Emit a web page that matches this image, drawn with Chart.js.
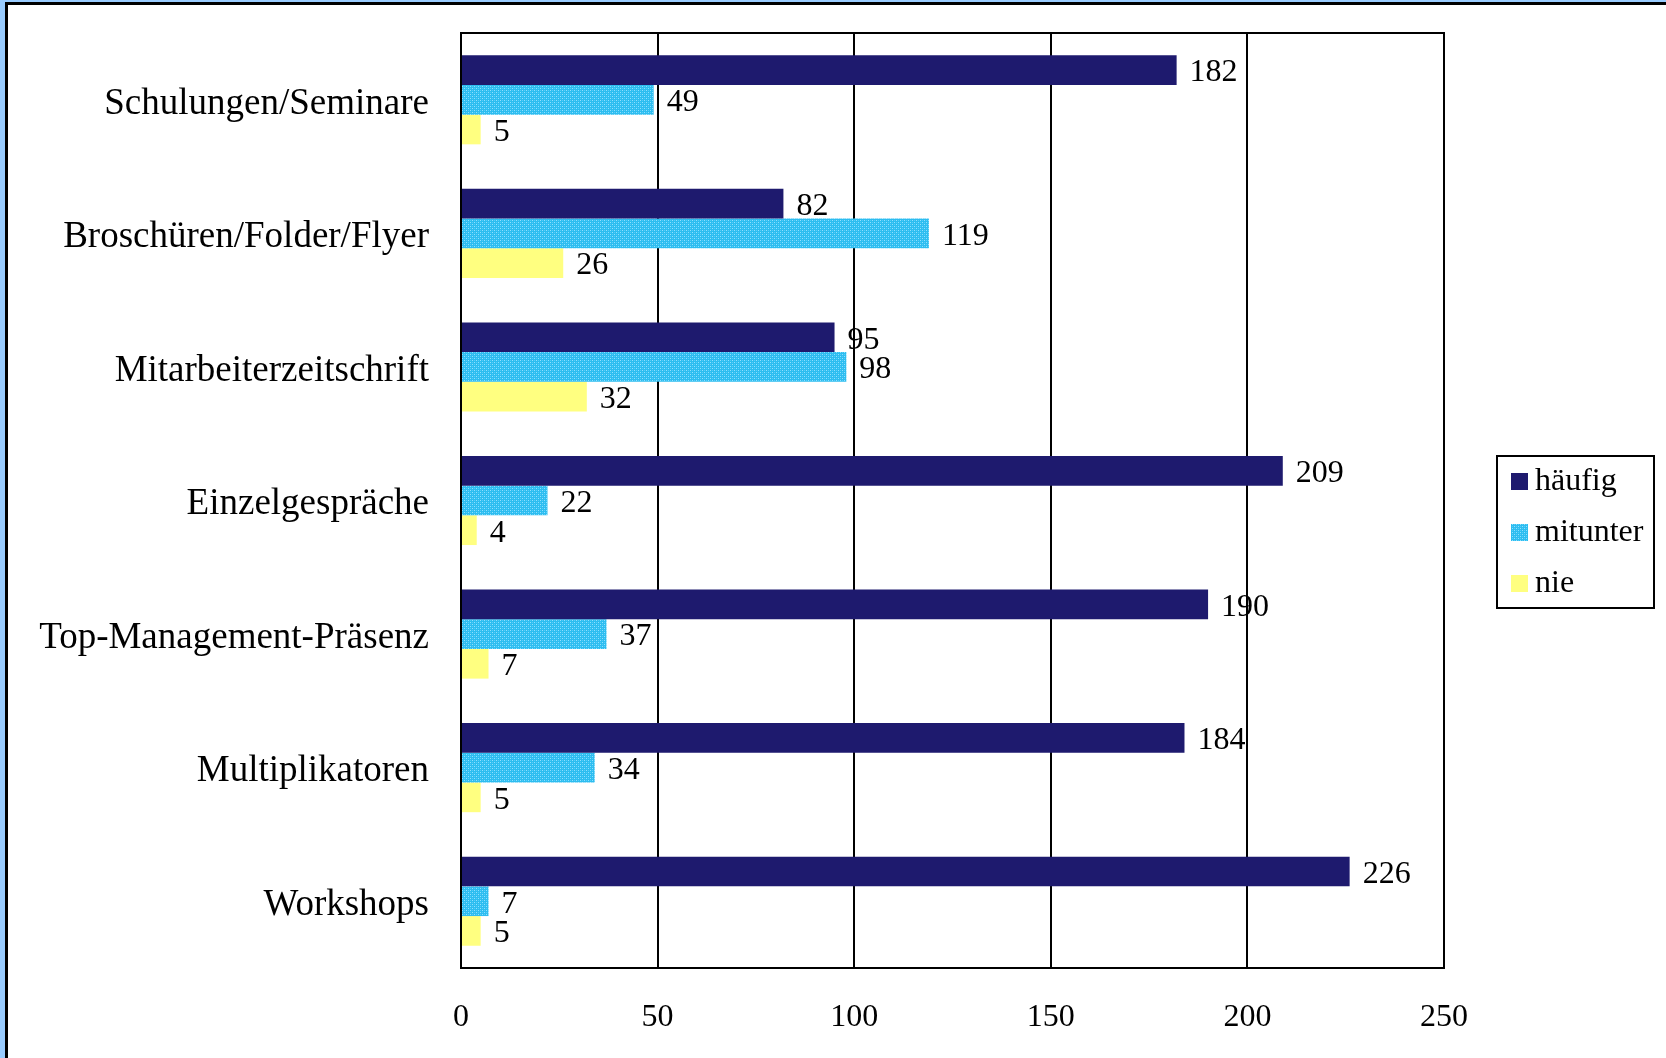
<!DOCTYPE html>
<html>
<head>
<meta charset="utf-8">
<title>Kommunikationsinstrumente</title>
<script src="https://cdn.jsdelivr.net/npm/chart.js@4.4.1/dist/chart.umd.min.js"></script>
<style>
  html, body { margin: 0; padding: 0; background: #99ccff; }
  #wrap { width: 1666px; height: 1058px; position: relative; }
</style>
</head>
<body>
<div id="wrap"><canvas id="chart" width="1666" height="1058"></canvas></div>
<script>
const categories = [
  "Schulungen/Seminare",
  "Broschüren/Folder/Flyer",
  "Mitarbeiterzeitschrift",
  "Einzelgespräche",
  "Top-Management-Präsenz",
  "Multiplikatoren",
  "Workshops"
];
const haeufig = [182, 82, 95, 209, 190, 184, 226];
const mitunter = [49, 119, 98, 22, 37, 34, 7];
const nie = [5, 26, 32, 4, 7, 5, 5];
const xTicks = [0, 50, 100, 150, 200, 250];

const SERIF = "'Liberation Serif', 'Times New Roman', serif";

// dotted cyan fill for the "mitunter" bars
function dotPattern() {
  const c = document.createElement("canvas");
  c.width = 4; c.height = 4;
  const g = c.getContext("2d");
  g.fillStyle = "#2dbdf0";
  g.fillRect(0, 0, 4, 4);
  g.fillStyle = "#8fe0ff";
  g.fillRect(0, 0, 1, 1);
  g.fillRect(2, 2, 1, 1);
  g.fillStyle = "#55cdf8";
  g.fillRect(2, 0, 1, 1);
  g.fillRect(0, 2, 1, 1);
  return document.getElementById("chart").getContext("2d").createPattern(c, "repeat");
}
const mitunterFill = dotPattern();

// page frame: blue margin with a black rule on the left and top
const framePlugin = {
  id: "frame",
  beforeDraw(chart) {
    const ctx = chart.ctx;
    ctx.save();
    ctx.fillStyle = "#99ccff";
    ctx.fillRect(0, 0, chart.width, chart.height);
    ctx.fillStyle = "#000";
    ctx.fillRect(5, 2, chart.width, chart.height);
    ctx.fillStyle = "#fff";
    ctx.fillRect(8, 5, chart.width, chart.height);
    ctx.restore();
  }
};

// box around plot area, value labels and legend
const decorPlugin = {
  id: "decor",
  afterDatasetsDraw(chart) {
    const ctx = chart.ctx;
    const a = chart.chartArea;
    ctx.save();
    ctx.strokeStyle = "#000";
    ctx.lineWidth = 2;
    ctx.strokeRect(a.left, a.top, a.right - a.left, a.bottom - a.top);

    ctx.fillStyle = "#000";
    ctx.font = "32px " + SERIF;
    ctx.textAlign = "left";
    ctx.textBaseline = "middle";
    chart.data.datasets.forEach((ds, i) => {
      chart.getDatasetMeta(i).data.forEach((bar, j) => {
        ctx.fillText(String(ds.data[j]), bar.x + 13, bar.y + 3);
      });
    });

    // legend
    const lx = 1497, ly = 456, lw = 157, lh = 152;
    ctx.lineWidth = 2;
    ctx.strokeRect(lx, ly, lw, lh);
    chart.data.datasets.forEach((ds, i) => {
      const sy = 473 + i * 51;
      ctx.fillStyle = ds.backgroundColor;
      ctx.fillRect(1511, sy, 17, 17);
      ctx.fillStyle = "#000";
      ctx.fillText(ds.label, 1535, sy + 9);
    });
    ctx.restore();
  }
};

new Chart(document.getElementById("chart"), {
  type: "bar",
  data: {
    labels: categories,
    datasets: [
      { label: "häufig", data: haeufig, backgroundColor: "#1e1a6e" },
      { label: "mitunter", data: mitunter, backgroundColor: mitunterFill },
      { label: "nie", data: nie, backgroundColor: "#ffff80" }
    ]
  },
  options: {
    indexAxis: "y",
    responsive: false,
    animation: false,
    events: [],
    layout: { padding: { top: 33, right: 222, left: 0, bottom: 0 } },
    datasets: {
      bar: { categoryPercentage: 0.667, barPercentage: 1.0, borderWidth: 0 }
    },
    plugins: {
      legend: { display: false },
      tooltip: { enabled: false }
    },
    scales: {
      x: {
        min: 0,
        max: 250,
        afterBuildTicks(scale) {
          scale.ticks = xTicks.map(v => ({ value: v }));
        },
        afterFit(scale) {
          scale.height = 90;
          scale.paddingLeft = 0;
          scale.paddingRight = 0;
        },
        grid: { color: "#000", lineWidth: 2, drawTicks: false },
        border: { display: false },
        ticks: {
          color: "#000",
          padding: 30,
          font: { family: SERIF, size: 32 }
        }
      },
      y: {
        afterFit(scale) {
          scale.width = 461;
          scale.paddingTop = 0;
          scale.paddingBottom = 0;
        },
        grid: { display: false },
        border: { display: false },
        ticks: {
          color: "#000",
          padding: 24,
          labelOffset: 4,
          font: { family: SERIF, size: 37 }
        }
      }
    }
  },
  plugins: [framePlugin, decorPlugin]
});
</script>
</body>
</html>
